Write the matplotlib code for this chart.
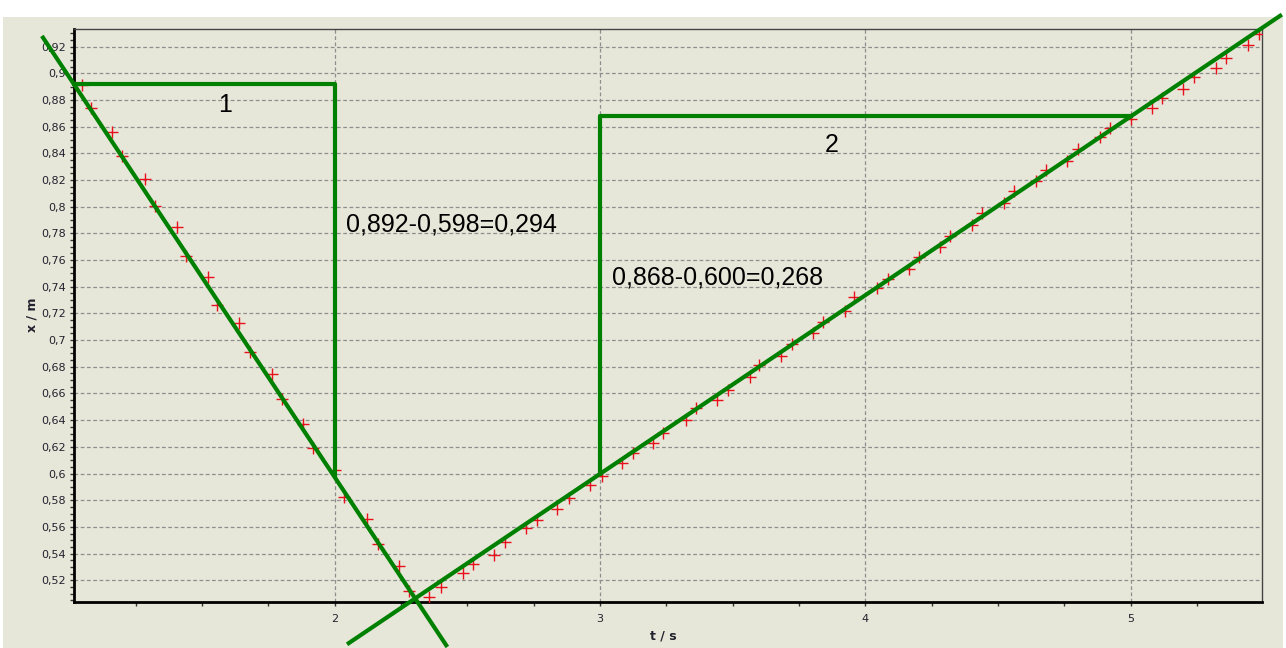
"""Position-time plot with two linear fits and slope triangles."""
import matplotlib
matplotlib.use('Agg')
import matplotlib.pyplot as plt
from matplotlib.patches import Rectangle
from matplotlib.ticker import MultipleLocator, FuncFormatter

# ---------------------------------------------------------------------------
# Data
# ---------------------------------------------------------------------------
t_meas = [1.047, 1.081, 1.160, 1.198, 1.286, 1.323, 1.405, 1.440, 1.524, 1.556,
          1.641, 1.681, 1.763, 1.801, 1.882, 1.918, 2.002, 2.036, 2.124, 2.163,
          2.243, 2.281, 2.357, 2.401, 2.483, 2.523, 2.601, 2.643, 2.722, 2.762,
          2.840, 2.885, 2.963, 3.007, 3.083, 3.124, 3.199, 3.239, 3.325, 3.363,
          3.441, 3.484, 3.564, 3.601, 3.682, 3.723, 3.802, 3.840, 3.924, 3.956,
          4.044, 4.087, 4.163, 4.203, 4.282, 4.320, 4.402, 4.440, 4.524, 4.562,
          4.644, 4.682, 4.760, 4.800, 4.885, 4.923, 5.001, 5.080, 5.120, 5.199,
          5.237, 5.322, 5.360, 5.441, 5.482]
x_meas = [0.8912, 0.8742, 0.8562, 0.8382, 0.8205, 0.8005, 0.7850, 0.7633, 0.7475, 0.7263,
          0.7126, 0.6913, 0.6746, 0.6556, 0.6371, 0.6189, 0.6026, 0.5822, 0.5659, 0.5469,
          0.5309, 0.5119, 0.5077, 0.5151, 0.5256, 0.5322, 0.5389, 0.5484, 0.5589, 0.5651,
          0.5732, 0.5819, 0.5912, 0.5984, 0.6081, 0.6151, 0.6231, 0.6301, 0.6401, 0.6489,
          0.6551, 0.6626, 0.6726, 0.6813, 0.6881, 0.6971, 0.7055, 0.7138, 0.7220, 0.7325,
          0.7388, 0.7456, 0.7535, 0.7621, 0.7700, 0.7783, 0.7863, 0.7951, 0.8030, 0.8118,
          0.8190, 0.8275, 0.8340, 0.8433, 0.8520, 0.8588, 0.8657, 0.8738, 0.8817, 0.8880,
          0.8975, 0.9042, 0.9117, 0.9212, 0.9292]

# fitted lines (end points)
fit1_t = [0.897, 2.425]
fit1_x = [0.928, 0.470]
fit2_t = [2.047, 5.570]
fit2_x = [0.472, 0.944]

# slope triangles
tri1_t = [1.018, 2.0, 2.0]
tri1_x = [0.892, 0.892, 0.598]
tri2_t = [3.0, 3.0, 5.0]
tri2_x = [0.600, 0.868, 0.868]

annotations = [
    (1.587, 0.8762, '1', 'center'),
    (3.875, 0.8462, '2', 'center'),
    (2.042, 0.7863, '0,892-0,598=0,294', 'left'),
    (3.046, 0.7473, '0,868-0,600=0,268', 'left'),
]

T_LIM = (1.018, 5.495)
X_LIM = (0.5037, 0.9332)

# ---------------------------------------------------------------------------
# Style
# ---------------------------------------------------------------------------
BEIGE = '#e7e7d9'
GREEN = '#008000'
RED = '#e8101a'
GRID = '#8e8e8e'
LABEL = '#22222e'

W, H = 1286, 648


def comma_fmt(v, _pos):
    s = f'{v:.2f}'.rstrip('0').rstrip('.')
    return s.replace('.', ',')


def main():
    fig = plt.figure(figsize=(W / 100, H / 100), dpi=100, facecolor='white')
    fig.patches.append(Rectangle((3 / W, 0), 1280 / W, 631 / H, transform=fig.transFigure,
                                 facecolor=BEIGE, edgecolor='none', zorder=-10))
    ax = fig.add_axes([74 / W, 46 / H, 1188 / W, 573 / H])
    ax.set_facecolor(BEIGE)

    ax.set_xlim(*T_LIM)
    ax.set_ylim(*X_LIM)
    ax.xaxis.set_major_locator(MultipleLocator(1))
    ax.xaxis.set_minor_locator(MultipleLocator(0.25))
    ax.yaxis.set_major_locator(MultipleLocator(0.02))
    ax.yaxis.set_minor_locator(MultipleLocator(0.005))
    ax.xaxis.set_major_formatter(FuncFormatter(comma_fmt))
    ax.yaxis.set_major_formatter(FuncFormatter(comma_fmt))

    ax.tick_params(which='both', direction='out', length=3, width=1, color='#333333',
                   labelsize=8, labelcolor=LABEL, pad=3)
    ax.tick_params(axis='x', which='major', pad=6)
    for side in ('left', 'bottom'):
        ax.spines[side].set_linewidth(2)
        ax.spines[side].set_color('black')
    for side in ('top', 'right'):
        ax.spines[side].set_linewidth(1)
        ax.spines[side].set_color('#444444')

    ax.grid(which='major', color=GRID, linestyle=(0, (3, 2)), linewidth=0.9)
    ax.set_axisbelow(True)

    ax.plot(t_meas, x_meas, linestyle='none', marker='+', ms=8, mew=1, color=RED, zorder=3)

    for tt, xx in [(fit1_t, fit1_x), (fit2_t, fit2_x)]:
        ax.plot(tt, xx, color=GREEN, lw=3, clip_on=False, zorder=5, solid_capstyle='butt')
    for tt, xx in [(tri1_t, tri1_x), (tri2_t, tri2_x)]:
        ax.plot(tt, xx, color=GREEN, lw=3, zorder=4, clip_on=False)

    for tx, xv, label, ha in annotations:
        ax.text(tx, xv, label, fontsize=18, family='Liberation Sans', ha=ha, va='center',
                color='black')

    fig.text(32 / W, 1 - 315 / H, 'x / m', rotation=90, fontsize=9, fontweight='bold',
             color=LABEL, ha='center', va='center')
    fig.text(663 / W, 1 - 636 / H, 't / s', fontsize=9, fontweight='bold',
             color=LABEL, ha='center', va='center')

    fig.savefig('out.png', dpi=100, facecolor='white')
    plt.close(fig)


if __name__ == '__main__':
    main()
